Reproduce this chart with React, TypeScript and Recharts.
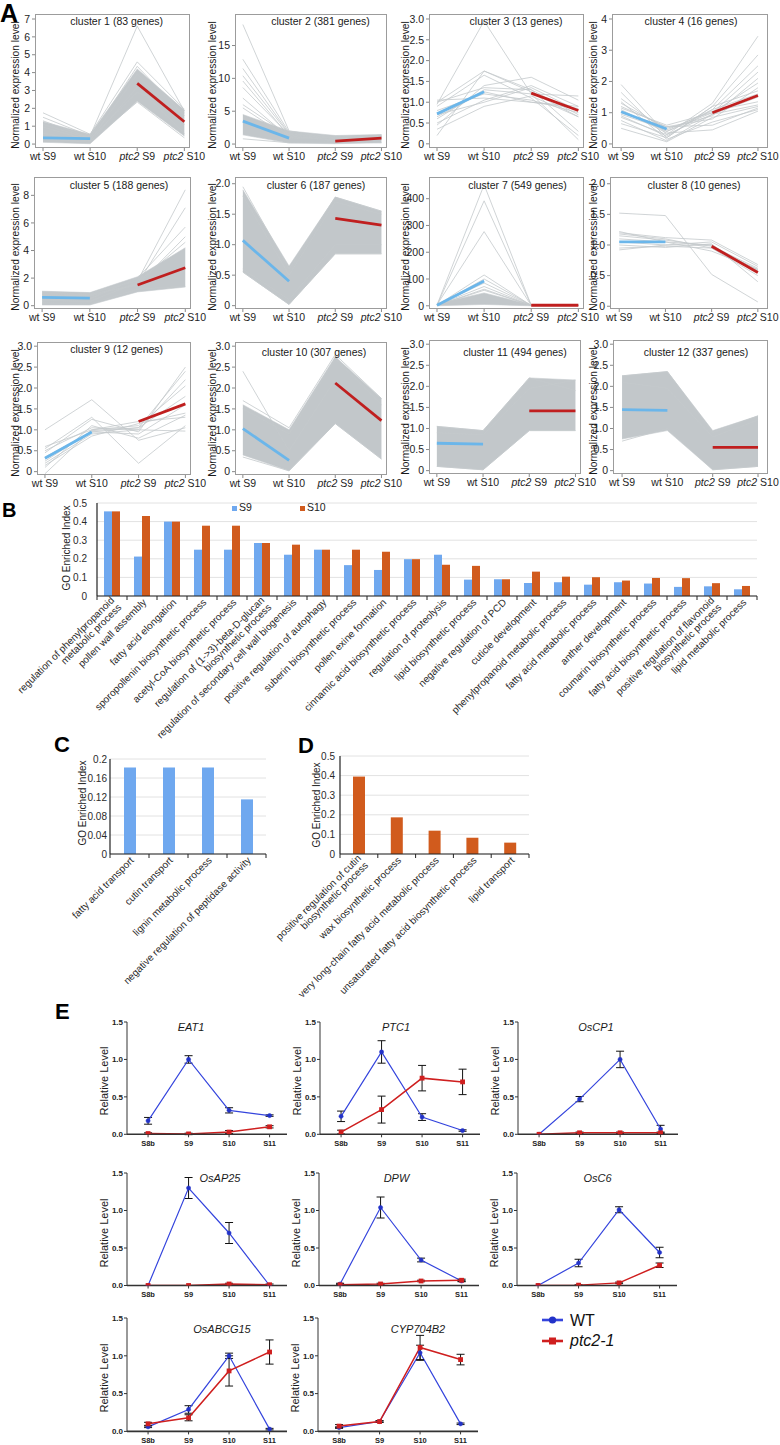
import React from 'react';
import {
  ComposedChart,
  LineChart,
  BarChart,
  Line,
  Area,
  Bar,
  XAxis,
  YAxis,
  CartesianGrid,
  ErrorBar,
} from 'recharts';

const FONT = '"Liberation Sans", Arial, Helvetica, sans-serif';

// ---------------- Panel A data ----------------
const stageLabels = ['wt S9', 'wt S10', 'ptc2 S9', 'ptc2 S10'];
const clusterNames = [
  'cluster 1 (83 genes)', 'cluster 2 (381 genes)', 'cluster 3 (13 genes)', 'cluster 4 (16 genes)',
  'cluster 5 (188 genes)', 'cluster 6 (187 genes)', 'cluster 7 (549 genes)', 'cluster 8 (10 genes)',
  'cluster 9 (12 genes)', 'cluster 10 (307 genes)', 'cluster 11 (494 genes)', 'cluster 12 (337 genes)',
];
const clusterYTicks = [
  [0, 1, 2, 3, 4, 5, 6, 7],
  [0, 5, 10, 15],
  [0, 0.5, 1, 1.5, 2, 2.5, 3],
  [0, 1, 2, 3, 4],
  [0, 2, 4, 6, 8],
  [0, 0.5, 1, 1.5, 2],
  [0, 100, 200, 300, 400],
  [0, 0.5, 1, 1.5, 2],
  [0, 0.5, 1, 1.5, 2, 2.5, 3],
  [0, 0.5, 1, 1.5, 2, 2.5, 3],
  [0, 0.5, 1, 1.5, 2, 2.5, 3],
  [0, 0.5, 1, 1.5, 2, 2.5, 3],
];
// dense gene bundles: lower / upper envelope at each stage (null = sparse cluster)
const clusterBandLow: (number[] | null)[] = [
  [0.1, 0.02, 2.4, 0.45],
  [1.4, 0.15, 0.05, 0.2],
  null,
  null,
  [0.05, 0.05, 1.0, 1.35],
  [0.55, 0.02, 0.85, 0.85],
  [0, 5, 0, 0],
  null,
  null,
  [0.4, 0.02, 1.15, 0.3],
  [0.1, 0.02, 0.95, 0.95],
  [0.75, 0.95, 0.02, 0.1],
];
const clusterBandHigh: (number[] | null)[] = [
  [1.25, 0.55, 4.2, 1.9],
  [4.5, 2.0, 1.3, 1.45],
  null,
  null,
  [1.05, 0.95, 2.1, 4.2],
  [1.9, 0.65, 1.78, 1.55],
  [8, 48, 3, 3],
  null,
  null,
  [1.6, 1.0, 2.75, 1.75],
  [1.05, 0.95, 2.2, 2.15],
  [2.25, 2.35, 0.95, 1.3],
];
// individual gene profiles
const clusterProfiles: number[][][] = [
  [[1.75, 0.55, 4.6, 1.95], [1.5, 0.45, 6.6, 1.85], [1.3, 0.35, 4.35, 1.6], [0.95, 0.2, 3.9, 1.1], [0.6, 0.15, 2.35, 0.35], [0.3, 0.1, 3.2, 0.6], [1.1, 0.3, 2.9, 1.75]],
  [[18.2, 2.0, 0.9, 1.2], [12.9, 1.8, 1.0, 1.1], [11.5, 1.6, 0.8, 1.3], [10.4, 1.5, 1.2, 1.0], [9.6, 1.2, 0.6, 1.4], [8.6, 1.4, 0.9, 0.9], [7.0, 1.0, 0.7, 1.1], [6.0, 1.3, 0.5, 0.8], [5.5, 0.9, 1.1, 1.2], [0.8, 0.2, 0.3, 0.2]],
  [[0.95, 2.95, 1.2, 0.1], [1.0, 1.75, 1.25, 0.65], [0.2, 1.75, 1.3, 0.3], [0.45, 1.4, 1.6, 1.05], [0.6, 1.3, 1.2, 1.15], [0.8, 1.2, 1.05, 0.75], [1.05, 1.1, 1.0, 0.85], [0.7, 1.0, 1.35, 0.8], [0.9, 1.65, 1.1, 0.2], [0.65, 1.25, 1.0, 0.9], [0.35, 0.9, 1.15, 0.65], [1.0, 1.35, 1.3, 0.7], [0.5, 1.05, 1.4, 0.9]],
  [[1.9, 0.3, 1.3, 3.45], [1.65, 0.2, 1.2, 2.85], [1.45, 0.4, 1.1, 2.5], [1.3, 0.5, 0.9, 2.1], [1.15, 0.6, 1.0, 1.95], [1.0, 0.55, 0.8, 1.8], [0.9, 0.25, 1.1, 1.6], [0.75, 0.1, 0.95, 1.5], [0.5, 0.07, 0.85, 1.2], [1.1, 0.35, 0.45, 1.05], [0.95, 0.45, 1.05, 1.35], [1.35, 0.15, 0.7, 1.1], [0.85, 0.3, 0.95, 1.25], [1.2, 0.55, 0.6, 1.15], [0.65, 0.2, 1.2, 1.7], [1.05, 0.4, 1.0, 2.3]],
  [[1.0, 0.9, 1.8, 8.4], [0.8, 0.7, 1.6, 7.1], [0.6, 0.5, 2.0, 5.7], [0.9, 0.8, 1.5, 5.0], [0.4, 0.3, 1.7, 4.6], [0.2, 0.1, 1.2, 1.4]],
  [[1.95, 0.6, 1.78, 1.55], [0.55, 0.02, 0.85, 0.85], [1.8, 0.5, 1.7, 1.5], [0.6, 0.1, 1.0, 1.0]],
  [[3, 452, 2, 1], [2, 392, 2, 1], [4, 277, 1, 1], [2, 115, 1, 1], [1, 100, 2, 1], [3, 85, 2, 2], [2, 72, 1, 1], [1, 62, 1, 1], [2, 58, 2, 2]],
  [[1.52, 1.48, 0.52, 0.07], [1.2, 1.12, 1.08, 0.68], [1.22, 1.05, 1.0, 0.55], [1.18, 1.1, 0.95, 0.6], [0.92, 1.0, 1.05, 0.65], [1.0, 0.96, 1.02, 0.4], [1.1, 1.05, 0.9, 0.6], [1.05, 1.0, 1.0, 0.58], [0.95, 0.98, 0.95, 0.5], [1.15, 1.08, 0.98, 0.62]],
  [[1.0, 1.72, 0.75, 1.05], [0.55, 1.3, 0.2, 1.1], [0.45, 1.25, 0.95, 2.5], [0.3, 0.95, 1.05, 2.4], [0.2, 0.9, 1.0, 2.2], [0.6, 1.0, 1.1, 2.05], [0.15, 0.85, 1.15, 1.4], [0.1, 1.1, 0.8, 1.35], [-0.05, 1.0, 1.2, 1.3], [0.35, 0.95, 0.9, 1.6], [0.5, 1.05, 1.0, 0.97], [0.25, 0.98, 1.05, 1.8]],
  [[2.4, 0.5, 2.2, 1.2], [1.7, 1.05, 2.8, 1.75], [0.35, 0.02, 1.15, 0.3], [1.5, 0.9, 2.7, 1.6]],
  [[1.05, 0.95, 2.2, 1.9], [0.1, 0.02, 0.95, 0.95], [0.9, 0.85, 1.95, 2.15]],
  [[2.25, 2.35, 0.9, 1.3], [0.7, 1.0, 0.02, 0.1], [2.1, 1.95, 0.8, 1.2]],
];
const clusterWtMean = [
  [0.35, 0.3], [3.5, 0.9], [0.72, 1.25], [1.03, 0.48], [0.6, 0.55], [1.07, 0.4],
  [2, 93], [1.05, 1.05], [0.32, 0.95], [1.03, 0.27], [0.65, 0.63], [1.45, 1.43],
];
const clusterPtcMean = [
  [3.4, 1.25], [0.45, 0.9], [1.22, 0.8], [1.0, 1.55], [1.5, 2.75], [1.43, 1.32],
  [2, 2], [0.98, 0.55], [1.2, 1.62], [2.12, 1.22], [1.42, 1.42], [0.55, 0.55],
];

// ---------------- Panel B/C/D data ----------------
const goTermsB = [
  'regulation of phenylpropanoid\nmetabolic process',
  'pollen wall assembly',
  'fatty acid elongation',
  'sporopollenin biosynthetic process',
  'acetyl-CoA biosynthetic process',
  'regulation of (1->3)-beta-D-glucan\nbiosynthetic process',
  'regulation of secondary cell wall biogenesis',
  'positive regulation of autophagy',
  'suberin biosynthetic process',
  'pollen exine formation',
  'cinnamic acid biosynthetic process',
  'regulation of proteolysis',
  'lipid biosynthetic process',
  'negative regulation of PCD',
  'cuticle development',
  'phenylpropanoid metabolic process',
  'fatty acid metabolic process',
  'anther development',
  'coumarin biosynthetic process',
  'fatty acid biosynthetic process',
  'positive regulation of flavonoid\nbiosynthetic process',
  'lipid metabolic process',
];
const goS9 = [0.455, 0.212, 0.4, 0.249, 0.249, 0.285, 0.222, 0.249, 0.166, 0.14, 0.198, 0.222, 0.088, 0.09, 0.07, 0.074, 0.061, 0.074, 0.067, 0.049, 0.052, 0.036];
const goS10 = [0.455, 0.43, 0.4, 0.378, 0.378, 0.285, 0.276, 0.249, 0.249, 0.238, 0.198, 0.168, 0.162, 0.09, 0.131, 0.104, 0.101, 0.083, 0.097, 0.096, 0.069, 0.054];
const goTicksB = [0, 0.1, 0.2, 0.3, 0.4, 0.5];

const goTermsC = ['fatty acid transport', 'cutin transport', 'lignin metabolic process', 'negative regulation of peptidase activity'];
const goValuesC = [0.182, 0.182, 0.182, 0.115];
const goTicksC = [0, 0.04, 0.08, 0.12, 0.16, 0.2];

const goTermsD = [
  'positive regulation of cutin\nbiosynthetic process',
  'wax biosynthetic process',
  'very long-chain fatty acid metabolic process',
  'unsaturated fatty acid biosynthetic process',
  'lipid transport',
];
const goValuesD = [0.395, 0.187, 0.119, 0.083, 0.058];
const goTicksD = [0, 0.1, 0.2, 0.3, 0.4, 0.5];

// ---------------- Panel E data ----------------
const eStages = ['S8b', 'S9', 'S10', 'S11'];
const eGenes = ['EAT1', 'PTC1', 'OsCP1', 'OsAP25', 'DPW', 'OsC6', 'OsABCG15', 'CYP704B2'];
const eWt = [
  [0.18, 1.0, 0.32, 0.25],
  [0.24, 1.1, 0.23, 0.05],
  [0.0, 0.47, 1.0, 0.07],
  [0.0, 1.3, 0.7, 0.0],
  [0.02, 1.04, 0.34, 0.06],
  [0.0, 0.3, 1.01, 0.44],
  [0.06, 0.29, 1.0, 0.03],
  [0.05, 0.13, 1.04, 0.1],
];
const eWtErr = [
  [0.045, 0.05, 0.035, 0.01],
  [0.07, 0.15, 0.045, 0.01],
  [0.0, 0.035, 0.11, 0.05],
  [0.0, 0.14, 0.14, 0.0],
  [0.01, 0.14, 0.025, 0.01],
  [0.0, 0.05, 0.04, 0.07],
  [0.01, 0.05, 0.035, 0.01],
  [0.01, 0.01, 0.1, 0.01],
];
const ePtc = [
  [0.01, 0.005, 0.03, 0.1],
  [0.03, 0.33, 0.75, 0.7],
  [0.0, 0.02, 0.02, 0.02],
  [0.0, 0.0, 0.02, 0.01],
  [0.01, 0.02, 0.06, 0.07],
  [0.0, 0.005, 0.035, 0.27],
  [0.1, 0.18, 0.8, 1.05],
  [0.07, 0.13, 1.11, 0.95],
];
const ePtcErr = [
  [0.01, 0.01, 0.02, 0.015],
  [0.025, 0.18, 0.17, 0.17],
  [0.0, 0.01, 0.01, 0.01],
  [0.0, 0.0, 0.01, 0.01],
  [0.01, 0.01, 0.01, 0.015],
  [0.0, 0.005, 0.01, 0.03],
  [0.02, 0.04, 0.2, 0.16],
  [0.02, 0.01, 0.16, 0.07],
];

// ---------------- layout (positions / styles only) ----------------
const clusterLayout = [
  { x: 35, y: 14, w: 155, h: 134, dom: [-0.22, 7.28], tx: 116.7, ty: 21, dec: 0 },
  { x: 235, y: 14, w: 152, h: 134, dom: [-0.6, 19.8], tx: 320.5, ty: 21, dec: 0 },
  { x: 429, y: 14, w: 155, h: 134, dom: [-0.1, 3.12], tx: 516, ty: 21, dec: 1 },
  { x: 612, y: 14, w: 156, h: 134, dom: [-0.13, 4.16], tx: 691, ty: 21, dec: 0 },
  { x: 34, y: 177, w: 157, h: 132, dom: [-0.24, 9.33], tx: 119, ty: 185, dec: 0 },
  { x: 235, y: 177, w: 152, h: 132, dom: [-0.055, 2.11], tx: 316, ty: 185, dec: 1 },
  { x: 429, y: 177, w: 155, h: 132, dom: [-12, 481], tx: 517.5, ty: 185, dec: 0 },
  { x: 610, y: 177, w: 158, h: 132, dom: [-0.045, 2.11], tx: 694, ty: 185, dec: 1 },
  { x: 37, y: 342, w: 154, h: 133, dom: [-0.08, 3.1], tx: 116.7, ty: 349, dec: 1 },
  { x: 235, y: 342, w: 152, h: 133, dom: [-0.08, 3.1], tx: 314, ty: 351.5, dec: 1 },
  { x: 429, y: 340, w: 152, h: 134, dom: [-0.08, 3.1], tx: 515, ty: 352, dec: 1 },
  { x: 613, y: 340, w: 155, h: 134, dom: [-0.08, 3.1], tx: 696, ty: 352, dec: 1 },
];
const colXDomain = [[0.83, 4.12], [0.83, 4.12], [0.83, 4.12], [0.8, 4.22]];
const eLayout = [
  { x: 127, top: 1022, h: 112.3, tx: 191, ty: 1027 },
  { x: 320, top: 1022, h: 112.3, tx: 396, ty: 1027 },
  { x: 518, top: 1022, h: 112.3, tx: 596, ty: 1027 },
  { x: 127, top: 1173.3, h: 112.5, tx: 220, ty: 1178 },
  { x: 319, top: 1173.3, h: 112.5, tx: 396.5, ty: 1178 },
  { x: 517, top: 1173.3, h: 112.5, tx: 597.5, ty: 1178 },
  { x: 127, top: 1318.3, h: 113.4, tx: 222, ty: 1329 },
  { x: 318, top: 1318.3, h: 113.4, tx: 418, ty: 1329 },
];

const BLUE_BAR = '#6fa8ef';
const ORANGE_BAR = '#d15b1d';
const GRAY_LINE = '#c4c9cc';
const MEAN_BLUE = '#6bb6ea';
const MEAN_RED = '#c01f1f';
const WT_BLUE = '#3545dd';
const PTC_RED = '#cf1f1f';

// ---------------- helpers ----------------
const VLabel = ({ x, y, text, size = 10, color = '#1a1a1a' }: any) => (
  <div
    style={{
      position: 'absolute', left: x, top: y, transform: 'translate(-50%,-50%) rotate(-90deg)',
      whiteSpace: 'nowrap', fontSize: size, lineHeight: 1, color, fontFamily: FONT,
    }}
  >
    {text}
  </div>
);

const CLabel = ({ x, y, children, size = 10.5, italic = false, color = '#1a1a1a' }: any) => (
  <div
    style={{
      position: 'absolute', left: x, top: y, transform: 'translate(-50%,-50%)', whiteSpace: 'nowrap',
      fontSize: size, lineHeight: 1, color, fontFamily: FONT, fontStyle: italic ? 'italic' : 'normal',
    }}
  >
    {children}
  </div>
);

const PanelLetter = ({ x, y, letter, size }: any) => (
  <div
    style={{
      position: 'absolute', left: x, top: y, fontSize: size, lineHeight: 1, fontWeight: 'bold',
      fontFamily: FONT, color: '#000',
    }}
  >
    {letter}
  </div>
);

const StageTick = (props: any) => {
  const { x, y, payload } = props;
  const label = stageLabels[Math.round(payload.value) - 1] || '';
  const parts = label.split(' ');
  return (
    <text x={x} y={y} dy="0.71em" textAnchor="middle" fontSize={10.5} fill="#1e1e1e" fontFamily={FONT}>
      <tspan fontStyle={parts[0] === 'ptc2' ? 'italic' : 'normal'}>{parts[0]}</tspan>
      <tspan>{'\u00a0' + parts[1]}</tspan>
    </text>
  );
};

function ClusterPanel({ idx }: { idx: number }) {
  const L = clusterLayout[idx];
  const ML = 40;
  const MT = 4;
  const MR = 30;
  const MB = 22;
  const width = L.w + ML + MR;
  const height = L.h + MT + MB;
  const low = clusterBandLow[idx];
  const high = clusterBandHigh[idx];
  const profiles = clusterProfiles[idx];
  const data = stageLabels.map((_, i) => {
    const row: any = { x: i + 1 };
    if (low && high) row.band = [low[i], high[i]];
    profiles.forEach((p, k) => {
      row['g' + k] = p[i];
    });
    row.wt = i < 2 ? clusterWtMean[idx][i] : null;
    row.ptc = i >= 2 ? clusterPtcMean[idx][i - 2] : null;
    return row;
  });
  const fmt = (v: number) => (v === 0 ? '0' : L.dec ? v.toFixed(1) : String(v));
  return (
    <div style={{ position: 'absolute', left: L.x - ML, top: L.y - MT, width, height }}>
      <ComposedChart width={width} height={height} data={data} margin={{ top: MT, right: MR, bottom: 0, left: 0 }}>
        <XAxis
          type="number" dataKey="x" domain={colXDomain[idx % 4] as any} ticks={[1, 2, 3, 4]} height={MB}
          tickSize={3} tickMargin={2} axisLine={false} tickLine={{ stroke: '#8a8a8a' }}
          tick={<StageTick />} allowDataOverflow interval={0}
        />
        <YAxis
          type="number" domain={L.dom as any} ticks={clusterYTicks[idx]} width={ML} tickSize={3} tickMargin={2}
          axisLine={false} tickLine={{ stroke: '#8a8a8a' }} tickFormatter={fmt} allowDataOverflow interval={0}
          tick={{ fontSize: 10.5, fill: '#1e1e1e', fontFamily: FONT }}
        />
        {low && (
          <Area
            dataKey="band" type="linear" fill="#c2c7ca" fillOpacity={1} stroke="#c6cbce" strokeWidth={0.6}
            isAnimationActive={false} dot={false} activeDot={false}
          />
        )}
        {profiles.map((_, k) => (
          <Line
            key={k} dataKey={'g' + k} type="linear" stroke={GRAY_LINE} strokeWidth={0.8} dot={false}
            activeDot={false} isAnimationActive={false}
          />
        ))}
        <Line dataKey="wt" type="linear" stroke={MEAN_BLUE} strokeWidth={2.8} dot={false} activeDot={false} isAnimationActive={false} />
        <Line dataKey="ptc" type="linear" stroke={MEAN_RED} strokeWidth={2.8} dot={false} activeDot={false} isAnimationActive={false} />
      </ComposedChart>
      <div
        style={{
          position: 'absolute', left: ML, top: MT, width: L.w, height: L.h, border: '1px solid #9c9c9c',
          boxSizing: 'border-box', pointerEvents: 'none',
        }}
      />
    </div>
  );
}

const makeGoTick = (n: number, half: number) => (props: any) => {
  const { x, y, payload, index } = props;
  const lines = String(payload.value).split('\n');
  return (
    <g>
      <line x1={x - half} x2={x - half} y1={y} y2={y + 4} stroke="#222" strokeWidth={1} />
      {index === n - 1 && <line x1={x + half} x2={x + half} y1={y} y2={y + 4} stroke="#222" strokeWidth={1} />}
      <g transform={`translate(${x + 5},${y + 7})`}>
        <text transform="rotate(-45)" textAnchor="end" fontSize={10} fill="#2a2a2a" fontFamily={FONT}>
          {lines.map((ln, k) => (
            <tspan key={k} x={0} y={(k - (lines.length - 1) / 2) * 10 + (lines.length > 1 ? 2 : 0)}>
              {ln}
            </tspan>
          ))}
        </text>
      </g>
    </g>
  );
};

const yTickStyle = { fontSize: 10, fill: '#2a2a2a', fontFamily: FONT };

function PanelB() {
  const data = goTermsB.map((t, i) => ({ term: t, s9: goS9[i], s10: goS10[i] }));
  const W = 770;
  const H = 265;
  const MT = 13;
  const YW = 97;
  const plotW = 660;
  const plotH = 93;
  return (
    <div style={{ position: 'absolute', left: 0, top: 490 }}>
      <BarChart
        width={W} height={H} data={data} margin={{ top: MT, right: W - YW - plotW, left: 0, bottom: 0 }}
        barGap={0} barSize={8}
      >
        <CartesianGrid vertical={false} stroke="#e2e2e2" />
        <XAxis
          dataKey="term" type="category" interval={0} height={H - MT - plotH} tickSize={0} tickMargin={0}
          axisLine={{ stroke: '#222', strokeWidth: 1.2 }} tickLine={false}
          tick={makeGoTick(goTermsB.length, plotW / goTermsB.length / 2)}
        />
        <YAxis
          type="number" domain={[0, 0.5]} ticks={goTicksB} width={YW} tickSize={0} tickMargin={10}
          axisLine={{ stroke: '#222', strokeWidth: 1.2 }} tickLine={false} tick={yTickStyle} interval={0}
        />
        <Bar dataKey="s9" fill={BLUE_BAR} isAnimationActive={false} />
        <Bar dataKey="s10" fill={ORANGE_BAR} isAnimationActive={false} />
      </BarChart>
    </div>
  );
}

function PanelSimpleGo({ terms, values, ticks, domainMax, left, top, yw, plotW, plotH, mt, color, margin }: any) {
  const data = terms.map((t: string, i: number) => ({ term: t, v: values[i] }));
  const H = 265;
  const W = yw + plotW + 12;
  return (
    <div style={{ position: 'absolute', left, top }}>
      <BarChart width={W} height={H} data={data} margin={{ top: mt, right: 12, left: 0, bottom: 0 }} barSize={12}>
        <CartesianGrid vertical={false} stroke="#e2e2e2" />
        <XAxis
          dataKey="term" type="category" interval={0} height={H - mt - plotH} tickSize={0} tickMargin={0}
          axisLine={{ stroke: '#222', strokeWidth: 1.2 }} tickLine={false}
          tick={makeGoTick(terms.length, plotW / terms.length / 2)}
        />
        <YAxis
          type="number" domain={[0, domainMax]} ticks={ticks} width={yw} tickSize={0} tickMargin={margin}
          axisLine={{ stroke: '#222', strokeWidth: 1.2 }} tickLine={false} tick={yTickStyle} interval={0}
        />
        <Bar dataKey="v" fill={color} isAnimationActive={false} />
      </BarChart>
    </div>
  );
}

const SquareDot = (props: any) => {
  const { cx, cy, index } = props;
  if (cx == null || cy == null) return <g key={'sq' + index} />;
  return <rect key={'sq' + index} x={cx - 2.4} y={cy - 2.4} width={4.8} height={4.8} fill={PTC_RED} />;
};

function ExprPanel({ idx }: { idx: number }) {
  const L = eLayout[idx];
  const YW = 35;
  const MT = 6;
  const XH = 20;
  const PW = 160;
  const MR = 6;
  const data = eStages.map((_, i) => ({
    x: i + 1,
    wt: eWt[idx][i],
    wtErr: eWtErr[idx][i],
    ptc: ePtc[idx][i],
    ptcErr: ePtcErr[idx][i],
  }));
  return (
    <div style={{ position: 'absolute', left: L.x - YW, top: L.top - MT }}>
      <LineChart width={YW + PW + MR} height={MT + L.h + XH} data={data} margin={{ top: MT, right: MR, left: 0, bottom: 0 }}>
        <XAxis
          type="number" dataKey="x" domain={[0.48, 4.43]} ticks={[1, 2, 3, 4]} interval={0}
          tickFormatter={(v: number) => eStages[Math.round(v) - 1]} height={XH} tickSize={3} tickMargin={3}
          axisLine={{ stroke: '#333', strokeWidth: 1.6 }} tickLine={{ stroke: '#333' }} allowDataOverflow
          tick={{ fontSize: 7.5, fontWeight: 'bold', fill: '#222', fontFamily: FONT }}
        />
        <YAxis
          type="number" domain={[0, 1.5]} ticks={[0, 0.5, 1, 1.5]} tickFormatter={(v: number) => v.toFixed(1)}
          width={YW} tickSize={3} tickMargin={1} axisLine={{ stroke: '#333' }} tickLine={{ stroke: '#333' }}
          allowDataOverflow interval={0}
          tick={{ fontSize: 8, fontWeight: 'bold', fill: '#222', fontFamily: FONT }}
        />
        <Line
          dataKey="wt" type="linear" stroke={WT_BLUE} strokeWidth={1.2} isAnimationActive={false} activeDot={false}
          dot={{ r: 2.1, fill: '#2232c8', stroke: '#2232c8', strokeWidth: 0.5 }}
        >
          <ErrorBar dataKey="wtErr" width={4} stroke="#111" strokeWidth={1} direction="y" isAnimationActive={false} />
        </Line>
        <Line
          dataKey="ptc" type="linear" stroke={PTC_RED} strokeWidth={1.5} isAnimationActive={false} activeDot={false}
          dot={SquareDot}
        >
          <ErrorBar dataKey="ptcErr" width={4} stroke="#111" strokeWidth={1} direction="y" isAnimationActive={false} />
        </Line>
      </LineChart>
    </div>
  );
}

const colYLabelX = [16, 213, 406, 594];

export default function App() {
  return (
    <div
      style={{
        position: 'absolute', left: 0, top: 0, width: 780, height: 1445, overflow: 'hidden',
        background: '#fff', fontFamily: FONT, color: '#1a1a1a',
      }}
    >
      {/* Panel A */}
      <PanelLetter x={0} y={1} letter="A" size={25} />
      {clusterNames.map((_, i) => (
        <ClusterPanel key={i} idx={i} />
      ))}
      {clusterNames.map((name, i) => {
        const L = clusterLayout[i];
        return (
          <React.Fragment key={'t' + i}>
            <CLabel x={L.tx} y={L.ty} size={10.5}>{name}</CLabel>
            <VLabel x={colYLabelX[i % 4]} y={L.y + L.h / 2 + 4} text="Normalized expression level" size={10.2} />
          </React.Fragment>
        );
      })}

      {/* Panel B */}
      <PanelLetter x={2} y={500} letter="B" size={20} />
      <PanelB />
      <VLabel x={67} y={548} text="GO Enriched Index" size={10} />
      <div style={{ position: 'absolute', left: 232, top: 505.5, width: 5, height: 5, background: BLUE_BAR }} />
      <div style={{ position: 'absolute', left: 239, top: 502, fontSize: 10.5, lineHeight: 1, fontFamily: FONT, color: '#222' }}>S9</div>
      <div style={{ position: 'absolute', left: 300, top: 505.5, width: 5, height: 5, background: ORANGE_BAR }} />
      <div style={{ position: 'absolute', left: 307, top: 502, fontSize: 10.5, lineHeight: 1, fontFamily: FONT, color: '#222' }}>S10</div>

      {/* Panel C */}
      <PanelLetter x={54} y={734} letter="C" size={22} />
      <PanelSimpleGo
        terms={goTermsC} values={goValuesC} ticks={goTicksC} domainMax={0.2} left={0} top={740}
        yw={110} plotW={156} plotH={95} mt={19} color={BLUE_BAR} margin={3}
      />
      <VLabel x={83} y={803} text="GO Enriched Index" size={10} />

      {/* Panel D */}
      <PanelLetter x={298} y={735} letter="D" size={22} />
      <PanelSimpleGo
        terms={goTermsD} values={goValuesD} ticks={goTicksD} domainMax={0.5} left={200} top={740}
        yw={140} plotW={189} plotH={98} mt={16} color={ORANGE_BAR} margin={5}
      />
      <VLabel x={317} y={805} text="GO Enriched Index" size={10} />

      {/* Panel E */}
      <PanelLetter x={55} y={1001} letter="E" size={22} />
      {eGenes.map((_, i) => (
        <ExprPanel key={'e' + i} idx={i} />
      ))}
      {eGenes.map((g, i) => {
        const L = eLayout[i];
        return (
          <React.Fragment key={'et' + i}>
            <CLabel x={L.tx} y={L.ty} size={11} italic>{g}</CLabel>
            <VLabel x={L.x - 23} y={L.top + L.h / 2 + 3} text="Relative Level" size={11} />
          </React.Fragment>
        );
      })}
      <svg style={{ position: 'absolute', left: 540, top: 1310 }} width={26} height={42}>
        <line x1={2} x2={23} y1={10} y2={10} stroke={WT_BLUE} strokeWidth={2.6} />
        <circle cx={12.5} cy={10} r={3.6} fill="#2232c8" />
        <line x1={2} x2={23} y1={31} y2={31} stroke={PTC_RED} strokeWidth={2.6} />
        <rect x={9} y={27.5} width={7} height={7} fill={PTC_RED} />
      </svg>
      <div style={{ position: 'absolute', left: 570, top: 1313, fontSize: 16, lineHeight: 1, fontFamily: FONT, color: '#111' }}>WT</div>
      <div style={{ position: 'absolute', left: 570, top: 1333, fontSize: 16, lineHeight: 1, fontFamily: FONT, fontStyle: 'italic', color: '#111' }}>ptc2-1</div>
    </div>
  );
}
